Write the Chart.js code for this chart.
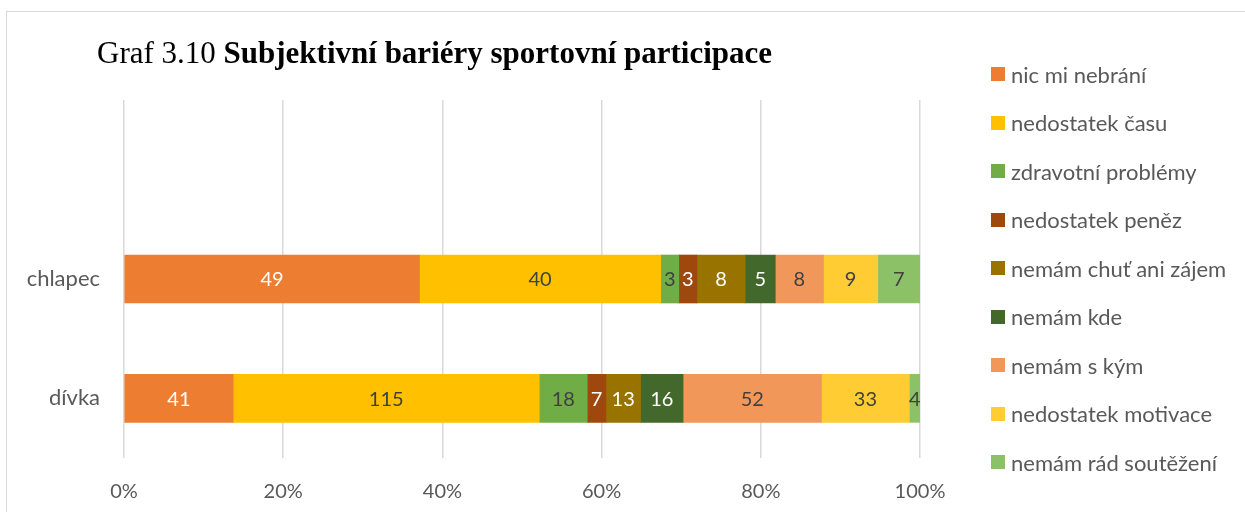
<!DOCTYPE html>
<html lang="cs">
<head>
<meta charset="utf-8">
<title>Graf 3.10</title>
<script src="https://cdn.jsdelivr.net/npm/chart.js@4.4.1/dist/chart.umd.min.js"></script>
<style>
  html, body { margin: 0; padding: 0; background: #fff; }
  body { width: 1245px; height: 512px; position: relative; overflow: hidden; }
  #frame { position: absolute; left: 6px; top: 11px; width: 1400px; height: 700px; border: 1.5px solid #d9d9d9; box-sizing: border-box; }
  #chart { position: absolute; left: 0; top: 0; }
  #title { position: absolute; left: 97px; top: 37px; font: 31px "Liberation Serif", "DejaVu Serif", serif; line-height: 31px; color: #000; white-space: nowrap; }
  #title b { font-weight: bold; }
  .lg { position: absolute; left: 991px; height: 22px; display: flex; align-items: center; font: 22px Lato, "Open Sans", sans-serif; color: #595959; white-space: nowrap; }
  .lg i { display: inline-block; width: 14px; height: 14px; margin-right: 6px; }
</style>
</head>
<body>
<div id="frame"></div>
<canvas id="chart" width="1245" height="512"></canvas>
<div id="title">Graf 3.10 <b>Subjektivní bariéry sportovní participace</b></div>
<div id="legend"></div>
<script>
// kategorie (první pás je prázdný, jako v originále)
const categories = ['', 'chlapec', 'dívka'];

// bariéry (série)
const seriesNames = [
  'nic mi nebrání',
  'nedostatek času',
  'zdravotní problémy',
  'nedostatek peněz',
  'nemám chuť ani zájem',
  'nemám kde',
  'nemám s kým',
  'nedostatek motivace',
  'nemám rád soutěžení'
];

// počty odpovědí podle série
const chlapec = [49, 40, 3, 3, 8, 5, 8, 9, 7];
const divka   = [41, 115, 18, 7, 13, 16, 52, 33, 4];

const seriesColors = ['#ED7D31', '#FFC000', '#70AD47', '#9E480E', '#997300', '#43682B', '#F1975A', '#FFCD33', '#8CC168'];
const labelColors  = ['#ffffff', '#404040', '#404040', '#ffffff', '#ffffff', '#ffffff', '#404040', '#404040', '#404040'];

const xTicks = [0, 20, 40, 60, 80, 100];

const TEXT = '#595959';
const FONT = 'Lato, "Open Sans", sans-serif';

const sum = arr => arr.reduce((a, b) => a + b, 0);
const totalChlapec = sum(chlapec);
const totalDivka = sum(divka);

const datasets = seriesNames.map((name, i) => ({
  label: name,
  data: [null, chlapec[i] / totalChlapec * 100, divka[i] / totalDivka * 100],
  counts: [null, chlapec[i], divka[i]],
  backgroundColor: seriesColors[i],
  borderWidth: 0,
  barThickness: 48
}));

// popisky hodnot uprostřed segmentů
const valueLabels = {
  id: 'valueLabels',
  afterDatasetsDraw(chart) {
    const ctx = chart.ctx;
    ctx.save();
    ctx.font = '20px ' + FONT;
    ctx.textAlign = 'center';
    ctx.textBaseline = 'middle';
    chart.data.datasets.forEach((ds, di) => {
      const meta = chart.getDatasetMeta(di);
      meta.data.forEach((el, idx) => {
        const n = ds.counts[idx];
        if (n == null) return;
        ctx.fillStyle = labelColors[di];
        ctx.fillText(String(n), (el.x + el.base) / 2, el.y + 1);
      });
    });
    ctx.restore();
  }
};

new Chart(document.getElementById('chart'), {
  type: 'bar',
  data: { labels: categories, datasets: datasets },
  options: {
    indexAxis: 'y',
    responsive: false,
    animation: false,
    layout: { padding: { top: 100, right: 325, bottom: 0, left: 0 } },
    plugins: {
      legend: { display: false },
      title: { display: false },
      tooltip: { enabled: false }
    },
    scales: {
      x: {
        stacked: true,
        min: 0,
        max: 100,
        afterFit: s => { s.height = 54; },
        afterBuildTicks: s => { s.ticks = xTicks.map(v => ({ value: v })); },
        ticks: {
          padding: 22,
          color: TEXT,
          font: { family: FONT, size: 20 },
          callback: v => v + '%'
        },
        grid: { color: '#d9d9d9', lineWidth: 1.5, drawTicks: false },
        border: { display: false }
      },
      y: {
        stacked: true,
        afterFit: s => { s.width = 124; },
        ticks: {
          padding: 24,
          color: TEXT,
          font: { family: FONT, size: 22 }
        },
        grid: { display: false, drawTicks: false },
        border: { display: false }
      }
    }
  },
  plugins: [valueLabels]
});

// legenda vpravo
const legendEl = document.getElementById('legend');
seriesNames.forEach((name, i) => {
  const row = document.createElement('div');
  row.className = 'lg';
  row.style.top = (74 + i * 48.5 - 11) + 'px';
  row.innerHTML = `<i style="background:${seriesColors[i]}"></i>${name}`;
  legendEl.appendChild(row);
});
</script>
</body>
</html>
